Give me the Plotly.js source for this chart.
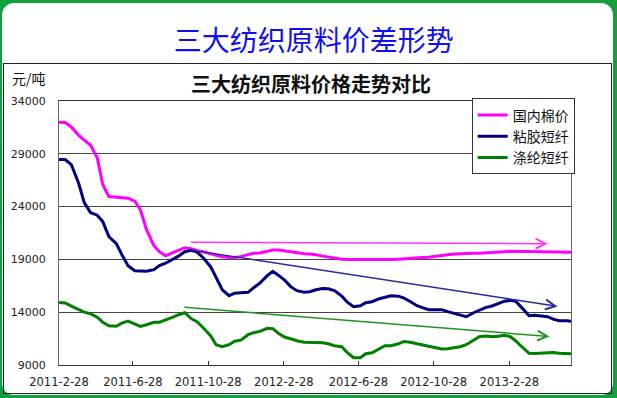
<!DOCTYPE html>
<html>
<head>
<meta charset="utf-8">
<script src="https://cdn.plot.ly/plotly-3.0.1.min.js"></script>
<style>
  html, body { margin:0; padding:0; width:617px; height:398px; overflow:hidden; background:#12a03c; }
  #bg { position:absolute; left:2px; top:3px; width:611px; height:392px; background:#ffffff; border-radius:12px; }
  #box { position:absolute; left:3px; top:63px; width:609px; height:331px; border:1px solid #222; box-sizing:border-box; }
  #plot { position:absolute; left:0; top:0; width:617px; height:398px; }
</style>
</head>
<body>
<div id="bg"></div>
<div id="box"></div>
<div id="plot"></div>
<script>
// ---- data ----
const dates = [
  '2011-02-28','2011-03-10','2011-03-20','2011-04-01','2011-04-10','2011-04-20','2011-05-01','2011-05-10','2011-05-20',
  '2011-06-01','2011-06-10','2011-06-20','2011-07-01','2011-07-10','2011-07-20','2011-08-01','2011-08-10','2011-08-20',
  '2011-09-01','2011-09-10','2011-09-20','2011-10-01','2011-10-10','2011-10-20','2011-11-01','2011-11-10','2011-11-20',
  '2011-12-01','2011-12-10','2011-12-20','2012-01-01','2012-01-10','2012-01-20','2012-02-01','2012-02-10','2012-02-20',
  '2012-03-01','2012-03-10','2012-03-20','2012-04-01','2012-04-10','2012-04-20','2012-05-01','2012-05-10','2012-05-20',
  '2012-06-01','2012-06-10','2012-06-20','2012-07-01','2012-07-10','2012-07-20','2012-08-01','2012-08-10','2012-08-20',
  '2012-09-01','2012-09-10','2012-09-20','2012-10-01','2012-10-10','2012-10-20','2012-11-01','2012-11-10','2012-11-20',
  '2012-12-01','2012-12-10','2012-12-20','2013-01-01','2013-01-10','2013-01-20','2013-02-01','2013-02-10','2013-02-20',
  '2013-03-01','2013-03-10','2013-03-20','2013-04-01','2013-04-10','2013-04-20','2013-05-01','2013-05-10','2013-05-20',
  '2013-06-01','2013-06-08'
];
const cotton = [
  31990,31960,31540,30730,30300,29830,28640,26090,24950,
  24880,24880,24800,24520,23720,21820,20300,19730,19350,
  19640,19880,20110,20020,19830,19730,19500,19400,19260,
  19170,19170,19260,19450,19590,19610,19780,19880,19880,
  19780,19730,19640,19540,19500,19450,19310,19210,19120,
  19020,18980,18980,18930,18930,18930,18980,18980,18980,
  19020,19070,19070,19120,19170,19210,19310,19400,19450,
  19500,19540,19540,19590,19590,19640,19690,19730,19730,
  19760,19760,19730,19730,19730,19710,19690,19690,19690,
  19670,19670
];
const viscose = [
  28450,28450,27980,26180,24380,23430,23190,22580,21160,
  20490,19450,18410,17930,17870,17870,18030,18410,18640,
  18980,19310,19730,19860,19690,19160,18310,17270,16130,
  15560,15800,15850,15880,16320,16750,17460,17870,17460,
  16990,16420,16040,15900,15940,16130,16250,16220,16040,
  15520,14950,14520,14610,14900,14990,15280,15420,15560,
  15520,15330,15020,14620,14430,14240,14240,14240,14050,
  13860,13670,13570,13950,14190,14430,14610,14800,15040,
  15120,15040,14430,13670,13710,13670,13570,13340,13190,
  13190,13130
];
const polyester = [
  14930,14870,14570,14240,14000,13860,13530,13050,12720,
  12670,12960,13150,12910,12650,12810,13050,13050,13240,
  13530,13760,13950,13380,13100,12530,11770,10920,10730,
  10920,11250,11350,11870,12060,12180,12480,12440,11960,
  11630,11490,11300,11160,11140,11140,11110,11010,10820,
  10730,10160,9690,9690,10070,10160,10540,10820,10820,
  11010,11230,11160,11010,10870,10780,10630,10510,10540,
  10610,10730,10920,11390,11680,11740,11680,11720,11820,
  11700,11300,10730,10110,10080,10130,10160,10180,10110,
  10090,10060
];
const seriesNames = ['国内棉价','粘胶短纤','涤纶短纤'];
const tickDates = ['2011-02-28','2011-06-28','2011-10-28','2012-02-28','2012-06-28','2012-10-28','2013-02-28'];
const tickLabels = ['2011-2-28','2011-6-28','2011-10-28','2012-2-28','2012-6-28','2012-10-28','2013-2-28'];
const yTicks = [9000,14000,19000,24000,29000,34000];
const yTickLabels = ['9000','14000','19000','24000','29000','34000'];
// trend arrows (start -> end)
const trendStartDate = ['2011-09-28','2011-09-28','2011-09-17'];
const trendStartVal  = [20615,19900,14470];
const trendEndDate   = ['2013-05-01','2013-05-17','2013-05-04'];
const trendEndVal    = [20490,14550,11700];

// ---- styles ----
const lineColors = ['#ff00ff','#000080','#008000'];
const arrowColors = ['#ff33ff','#2a2aa0','#1e961e'];
const cjk = '"Noto Sans CJK SC", "Noto Sans", sans-serif';

const values = [cotton, viscose, polyester];
const traces = values.map((v,i)=>({
  x: dates, y: v, type:'scatter', mode:'lines', name: seriesNames[i],
  line:{color: lineColors[i], width:3}
}));

const annotations = [
  {text:'元/吨', xref:'paper', yref:'paper', x:-0.0595, y:1.0854, showarrow:false,
   font:{family:cjk, size:14, color:'#111'}, xanchor:'center', yanchor:'middle'},
  {text:'<b>三大纺织原料价格走势对比</b>', xref:'paper', yref:'paper', x:0.4917, y:1.066, showarrow:false,
   font:{family:cjk, size:20, color:'#111'}, xanchor:'center', yanchor:'middle'}
];
for (let i=0;i<3;i++){
  annotations.push({
    x: trendEndDate[i], y: trendEndVal[i], ax: trendStartDate[i], ay: trendStartVal[i],
    xref:'x', yref:'y', axref:'x', ayref:'y', text:'', showarrow:true,
    arrowhead:5, arrowsize:1.3, arrowwidth:1.5, arrowcolor: arrowColors[i]
  });
}

const layout = {
  width:617, height:398,
  margin:{l:59, r:46, t:101, b:33},
  paper_bgcolor:'rgba(0,0,0,0)', plot_bgcolor:'#ffffff',
  title:{text:'三大纺织原料价差形势', font:{family:cjk, size:28, color:'#1010ee'},
         xref:'paper', x:0.4976, y:0.897, yref:'container', xanchor:'center', yanchor:'middle'},
  xaxis:{type:'date', range:['2011-02-28','2013-06-08'], tickmode:'array', tickvals: tickDates, ticktext: tickLabels,
         showgrid:false, zeroline:false, showline:true, linecolor:'#333', linewidth:1, mirror:true,
         ticks:'inside', ticklen:4, tickcolor:'#333', ticklabelstandoff:6,
         tickfont:{family:'DejaVu Sans', size:11.5, color:'#222'}},
  yaxis:{range:[9000,34000], tickmode:'array', tickvals:yTicks, ticktext:yTickLabels, showgrid:true, gridcolor:'#444', gridwidth:1,
         zeroline:false, showline:true, linecolor:'#666', linewidth:1, mirror:true, ticks:'',
         ticklabelstandoff:10, tickfont:{family:'DejaVu Sans', size:11, color:'#222'}},
  legend:{x:0.806, y:1.0095, xanchor:'left', yanchor:'top', bgcolor:'#ffffff', bordercolor:'#333', borderwidth:1,
          font:{family:cjk, size:14, color:'#111'}, tracegroupgap:0, itemwidth:30},
  showlegend:true,
  annotations: annotations
};

Plotly.newPlot('plot', traces, layout, {staticPlot:true, displayModeBar:false});
</script>
</body>
</html>
